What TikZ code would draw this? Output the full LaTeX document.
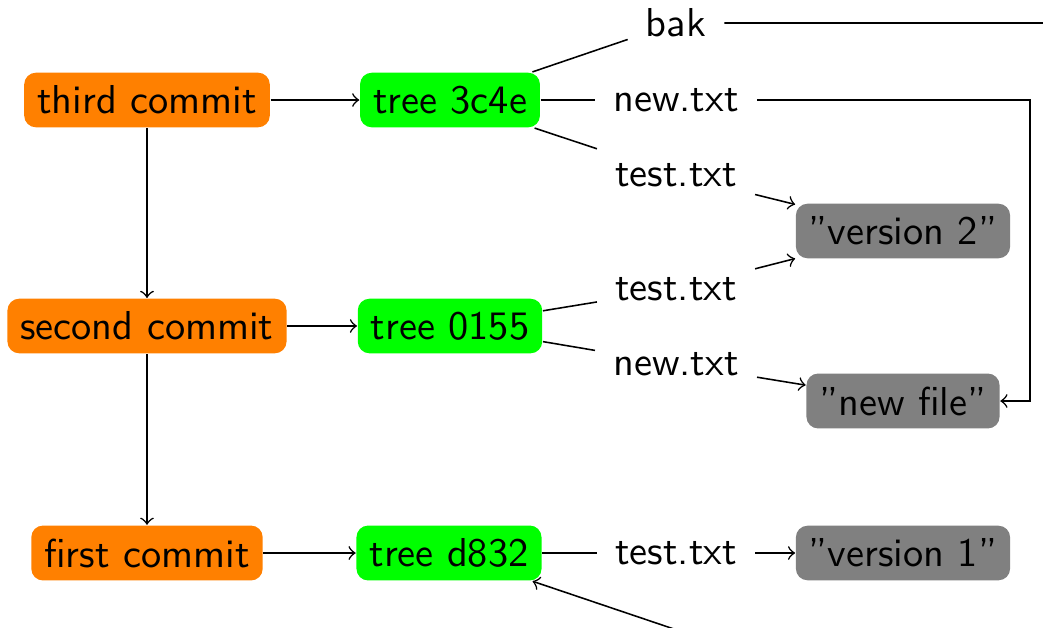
\documentclass[tikz,border=0pt]{standalone}
\usepackage{fontspec}
\renewcommand{\familydefault}{\sfdefault}
\begin{document}
\begin{tikzpicture}[x=0.2564pt, y=-0.2564pt,
    every node/.style={font=\fontsize{10.35pt}{12pt}\selectfont},
    commit/.style={fill=orange, rounded corners=3pt, minimum height=14pt},
    tree/.style={fill=green, rounded corners=3pt, minimum height=14pt},
    blob/.style={fill=gray, rounded corners=3pt, minimum height=14pt},
    fname/.style={inner sep=4.5pt}]
      \useasboundingbox (0,0) rectangle (1043,627);
      \clip (0,0) rectangle (1043,627);
      \draw
        (147,100) node[commit] (c3){third commit}
        (147,326) node[commit] (c2){second commit}
        (147,553) node[commit] (c1){first commit}
        (450,100) node[tree] (t3){tree 3c4e}
        (450,326) node[tree] (t2){tree 0155}
        (449,553) node[tree] (t1){tree d832}
        (676,23) node[fname] (bak){bak}
        (676,100) node[fname] (n3){new.txt}
        (676,175) node[fname] (s3){test.txt}
        (676,289) node[fname] (s2){test.txt}
        (676,364) node[fname] (n2){new.txt}
        (676,553) node[fname] (s1){test.txt}
        (903,231) node[blob] (v2){''version 2''}
        (903,401) node[blob] (nf){''new file''}
        (903,553) node[blob] (v1){''version 1''};
      \coordinate (nbend) at (1030,100);
      \coordinate (bakout) at (1100,23);
      \coordinate (bakdown) at (1100,702);
      \coordinate (bakin) at (890,702);
      \begin{scope}[->]
        \draw (c3) to (t3);
        \draw (c2) to (t2);
        \draw (c1) to (t1);
        \draw (c3) to (c2);
        \draw (c2) to (c1);
        \draw (s3) to (v2);
        \draw (s2) to (v2);
        \draw (n2) to (nf);
        \draw (s1) to (v1);
        \draw (n3) -- (nbend) |- (nf);
        \draw (bak) -- (bakout) -- (bakdown) -- (bakin) -- (t1);
      \end{scope}
      \begin{scope}[-]
        \draw (t3) to (bak);
        \draw (t3) to (n3);
        \draw (t3) to (s3);
        \draw (t2) to (s2);
        \draw (t2) to (n2);
        \draw (t1) to (s1);
      \end{scope}
    \end{tikzpicture}
\end{document}
